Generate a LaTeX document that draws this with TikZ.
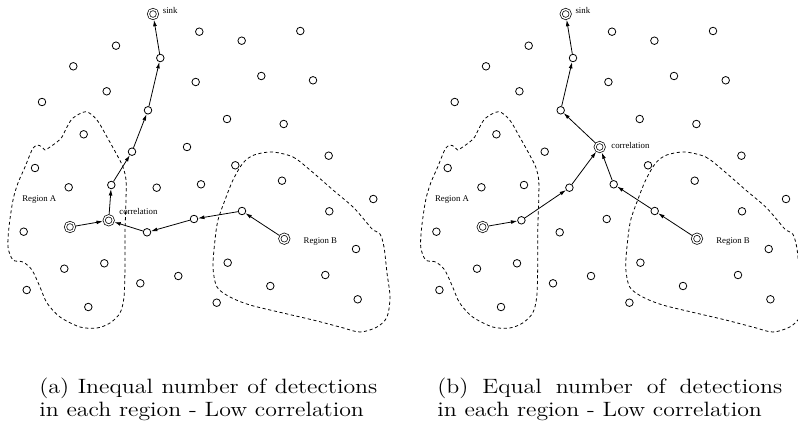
\documentclass[tikz,border=0pt]{standalone}
\usepackage{fontspec}
\newfontfamily\labelfont{Liberation Serif}
\usetikzlibrary{arrows.meta}

\tikzset{
  sensor/.style={circle, draw, line width=0.45pt, minimum size=4.3pt, inner sep=0pt},
  dnode/.style={circle, draw, double, line width=0.4pt, double distance=0.8pt,
    minimum size=5.2pt, inner sep=0pt, outer sep=0.8pt},
  hop/.style={-{Latex[length=3.6pt,width=2.2pt]}, line width=0.45pt},
  region/.style={dash pattern=on 1.8pt off 1.5pt, line width=0.45pt},
  lbl/.style={font=\labelfont\fontsize{5}{6}\selectfont, inner sep=0pt, anchor=west},
  caption/.style={inner sep=0pt, anchor=base west},
}

% sensors, sources, sink and regions shared by both panels
\newcommand{\sensorfield}{%
  \foreach \px/\py [count=\k] in {199.3/31.7, 300.3/31, 241.7/40.7, 116/45.7,
      73.3/66.3, 195.7/82, 261.3/76, 313/80.3, 106.7/91.3, 42/102, 227/119,
      283.7/124, 83.7/134.3, 328.7/155.7, 35/168, 235.3/165.3, 282/180.7,
      68.7/187.3, 373.3/199, 329.3/211.3, 23.7/231.7, 356/249, 64.3/268.7,
      104.3/263.3, 227.7/262.7, 178.3/276, 140.3/283.3, 325.3/275, 270.3/286,
      26.7/290, 357.7/299.3, 216.7/302.7, 88.3/307}
    \node[sensor] (n\k) at (\px,\py) {};
  % relay candidates
  \node[sensor] (u1) at (160.3,58) {};
  \node[sensor] (u2) at (148,110.3) {};
  \node[sensor] (u3) at (132,151.7) {};
  \node[sensor] (u4) at (111.3,185) {};
  \node[sensor] (u5) at (156.7,187.7) {};
  \node[sensor] (u6) at (201,184.3) {};
  \node[sensor] (u7) at (242,211) {};
  \node[sensor] (u8) at (194,219) {};
  \node[sensor] (u9) at (147,232.3) {};
  % sink and sources
  \node[dnode] (sink) at (153,14) {};
  \node[dnode] (srcA) at (70,227) {};
  \node[dnode] (srcB) at (284.3,238.7) {};
  \node[lbl] (sinklbl) at (162.5,10) {sink};
  \node[lbl] (lblA) at (22,199.3) {Region A};
  \node[lbl] (lblB) at (303.3,241.5) {Region B};
  % regions
  \draw[region] plot[smooth cycle] coordinates {(86,111.7) (97,120) (107,137)
    (117,155) (123,167) (126,180) (126,200) (125,233) (125,267) (124,297)
    (120,313) (110,323) (97,328) (80,327) (60,317) (47,303) (40,287) (32,270)
    (23,262) (13,260) (8,247) (9,227) (13,200) (18,183) (25,167) (32,150)
    (37,145) (42,147) (45,150) (50,147) (57,142) (62,137) (67,127) (73,118)};
  \draw[region] plot[smooth cycle] coordinates {(272,152) (293,157) (310,170)
    (333,190) (353,207) (367,223) (373,230) (380,234) (384,247) (387,273)
    (390,297) (387,317) (377,327) (360,332) (340,327) (313,320) (283,313)
    (250,305) (230,297) (217,287) (213,267) (215,240) (218,220) (225,200)
    (233,180) (243,163) (254,155)};
}

\begin{document}
\begin{tikzpicture}[x=0.02cm, y=-0.02cm]
  \useasboundingbox (0,0) rectangle (798,429);

  % ---- (a) inequal number of detections ----
  \begin{scope}[name prefix=a-]
    \sensorfield
    \node[sensor] (u10) at (187,147) {};
    \node[dnode] (corr) at (108.7,220.3) {};
    \node[lbl] (corrlbl) at (119,211.7) {correlation};
    \draw[hop] (srcA) -- (corr);
    \draw[hop] (srcB) -- (u7);
    \draw[hop] (u7) -- (u8);
    \draw[hop] (u8) -- (u9);
    \draw[hop] (u9) -- (corr);
    \draw[hop] (corr) -- (u4);
    \draw[hop] (u4) -- (u3);
    \draw[hop] (u3) -- (u2);
    \draw[hop] (u2) -- (u1);
    \draw[hop] (u1) -- (sink);
  \end{scope}

  % ---- (b) equal number of detections ----
  \begin{scope}[name prefix=b-, xshift=412.7*0.02cm]
    \sensorfield
    \node[dnode] (corr) at (187,147) {};
    \node[sensor] (u10) at (108.7,220.3) {};
    \node[lbl] (corrlbl) at (198.3,145.7) {correlation};
    \draw[hop] (srcA) -- (u10);
    \draw[hop] (u10) -- (u5);
    \draw[hop] (u5) -- (corr);
    \draw[hop] (srcB) -- (u7);
    \draw[hop] (u7) -- (u6);
    \draw[hop] (u6) -- (corr);
    \draw[hop] (corr) -- (u2);
    \draw[hop] (u2) -- (u1);
    \draw[hop] (u1) -- (sink);
  \end{scope}

  % ---- captions ----
  \node[caption] (capa) at (39,393) {\scalebox{1.15}[1]{\parbox[t]{5.88cm}{%
    \fontsize{11.8}{13.3}\selectfont
    (a) Inequal number of detections\linebreak in each region - Low correlation}}};
  \node[caption] (capb) at (437,393) {\scalebox{1.15}[1]{\parbox[t]{6cm}{%
    \fontsize{11.8}{13.3}\selectfont
    (b) Equal number of detections\linebreak in each region - Low correlation}}};
\end{tikzpicture}
\end{document}
